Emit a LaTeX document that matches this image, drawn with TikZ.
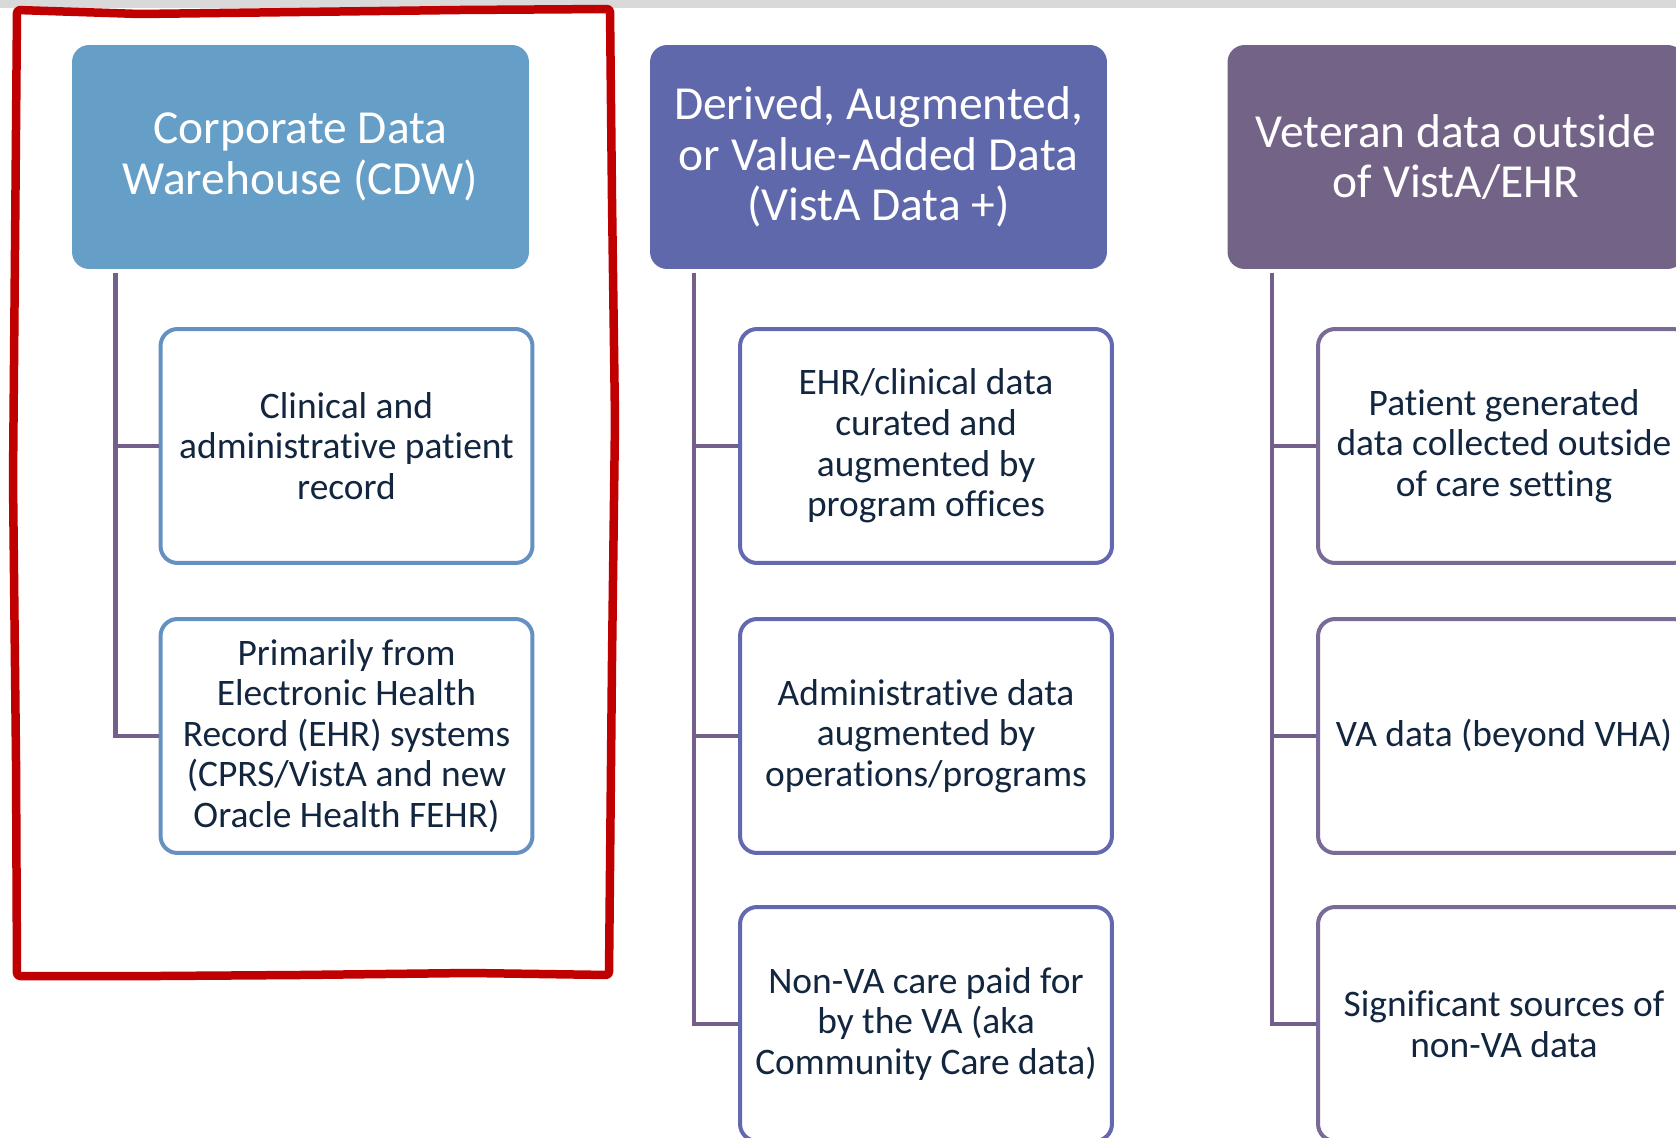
\documentclass[tikz,border=0pt]{standalone}
\usepackage{fontspec}
\setmainfont[Ligatures=NoCommon]{Carlito}
\usetikzlibrary{positioning, calc}
\definecolor{cdwBlue}{HTML}{659EC7}
\definecolor{plusBlue}{HTML}{6068AC}
\definecolor{vetPurple}{HTML}{736487}
\definecolor{cdwEdge}{HTML}{6591C2}
\definecolor{plusEdge}{HTML}{6468B0}
\definecolor{vetEdge}{HTML}{7A6A96}
\definecolor{trunkGray}{HTML}{735F8A}
\definecolor{itemInk}{HTML}{13263F}
\definecolor{markRed}{HTML}{C00000}
\definecolor{stripGray}{HTML}{D9D9D9}
\tikzset{
    headBox/.style={rectangle, rounded corners=0.34cm, fill=#1, text=white, align=center,
        minimum width=9.14cm, minimum height=4.48cm, inner sep=0pt,
        font=\fontsize{27}{28.6}\selectfont},
    itemBox/.style={rectangle, rounded corners=0.34cm, draw=#1, line width=0.08cm, fill=white,
        text=itemInk, align=center, minimum width=7.44cm, minimum height=4.68cm, inner sep=0pt,
        font=\fontsize{21.3}{23.1}\selectfont},
    branchLine/.style={draw=trunkGray, line width=0.085cm},
    handFrame/.style={draw=markRed, line width=0.17cm, line join=round, rounded corners=0.06cm},
}
\newcommand{\drawBranch}[2]{
    \draw[branchLine] (#1) |- (#2.west);
}

\begin{document}
\begin{tikzpicture}[x=0.02cm, y=-0.02cm]

        \useasboundingbox (0,0) rectangle (1676,1138);
        \clip (0,0) rectangle (1676,1138);
        \fill[stripGray] (0,0) rectangle (1676,8.5);

        % column heads
        \node[headBox=cdwBlue] (cdw) at (300.5,157) {Corporate Data\\Warehouse (CDW)};
        \node[headBox=plusBlue] (plus) at (878.5,157) {Derived, Augmented,\\or Value-Added Data\\(VistA Data +)};
        \node[headBox=vetPurple] (vet) at (1456,157) {Veteran data outside\\of VistA/EHR};

        \coordinate (tCdw) at (115.5,273);
        \coordinate (tPlus) at (694,273);
        \coordinate (tVet) at (1272,273);

        % items
        \node[itemBox=cdwEdge] (cdw1) at (346.5,446) {Clinical and\\administrative patient\\record};
        \node[itemBox=cdwEdge] (cdw2) at (346.5,736) {Primarily from\\Electronic Health\\Record (EHR) systems\\(CPRS/VistA and new\\Oracle Health FEHR)};

        \node[itemBox=plusEdge] (plus1) at (926,446) {EHR/clinical data\\curated and\\augmented by\\program offices};
        \node[itemBox=plusEdge] (plus2) at (926,736) {Administrative data\\augmented by\\operations/programs};
        \node[itemBox=plusEdge] (plus3) at (926,1024) {Non-VA care paid for\\by the VA (aka\\Community Care data)};

        \node[itemBox=vetEdge] (vet1) at (1504,446) {Patient generated\\data collected outside\\of care setting};
        \node[itemBox=vetEdge] (vet2) at (1504,736) {VA data (beyond VHA)};
        \node[itemBox=vetEdge] (vet3) at (1504,1024) {Significant sources of\\non-VA data};

        \drawBranch{tCdw}{cdw1}
        \drawBranch{tCdw}{cdw2}
        \drawBranch{tPlus}{plus1}
        \drawBranch{tPlus}{plus2}
        \drawBranch{tPlus}{plus3}
        \drawBranch{tVet}{vet1}
        \drawBranch{tVet}{vet2}
        \drawBranch{tVet}{vet3}

        % red marking round the CDW column
        \draw[handFrame] (17,10) -- (140,14) -- (300,12) -- (460,10) -- (610,9)
            -- (612,200) -- (615,420) -- (612,660) -- (609,975)
            -- (470,973) -- (300,975) -- (160,976) -- (17,976)
            -- (16,760) -- (13,480) -- (15,250) -- cycle;

    \end{tikzpicture}
\end{document}
